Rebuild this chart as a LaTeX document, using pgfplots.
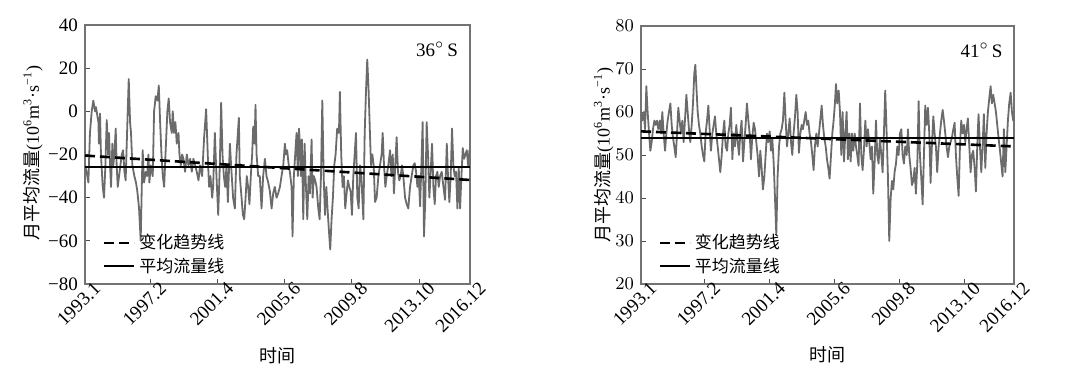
\documentclass[border=0pt]{standalone}
\usepackage{pgfplots}
\pgfplotsset{compat=1.18}
\usepackage{fontspec}
\setmainfont{Liberation Serif}
\newfontfamily\cjk{Noto Sans CJK SC}
\pgfplotstableread{
i v
0 -25
1.2 -28
2.5 -33
3.7 -10
5 0
6.2 5
7.5 0
8.2 2
9.2 -2
10 -5
10.4 -15
11.2 -1
11.9 -20
13.2 -35
14.2 -40
15.2 -25
16.2 -4
17.2 -20
17.9 -10
18.7 -25
19.4 -35
20.4 -15
21.1 -25
21.9 -20
22.9 -8
23.6 -25
24.4 -35
25.4 -30
26.4 -25
27.4 -20
28.4 -18
29.4 -28
30.3 -32
31.6 -5
32.6 15
33.6 -5
34.3 -10
35.3 -25
36.8 -30
38 -33
39 -37
40.3 -45
41.5 -60
42.5 -30
43 -18
44 -33
45.3 -28
46.3 -30
47.3 -20
48 -33
49 -25
50.5 -30
51.5 0
52.7 7
54 5
55 12
56 -5
57 -20
58 -30
59 -35
60 -20
61.4 0
62.4 6
63.4 -5
64.7 -10
65.4 0
66.4 -10
67.4 -5
68.4 -15
69.7 -10
70.4 -20
71.4 -25
72.4 -20
73.4 -22
74.6 -28
75.9 -20
77.1 -25
78.4 -22
79.6 -28
80.8 -22
82.1 -25
83.3 -28
84.6 -32
85.8 -25
87.3 -30
88.8 -12
90.3 1
91.8 -25
92.5 -35
93.5 -30
94.8 -40
95.5 -35
96.8 -10
98 -30
99.3 -48
100.5 -25
101.5 4
102.5 -20
103.5 -30
104.5 -35
105.5 -25
106.5 -42
108 -15
109.2 -28
110.4 -40
111.7 -45
112.9 -20
114.7 -3
115.4 -30
116.7 -40
117.7 -48
118.7 -50
119.7 -40
120.6 -30
121.6 -35
122.6 -43
123.6 -30
124.6 -20
125.4 -7
126.4 -15
127.1 3
127.9 -20
129.1 -30
130.3 -30
131.6 -45
132.8 -30
134.1 -22
135.3 -30
136.6 -33
137.8 -37
139.1 -45
140.3 -38
141.5 -35
142.8 -40
144 -38
145.3 -35
146.5 -30
147.8 -25
149 -15
149.8 -20
150.7 -18
151.7 -24
152.7 -28
154 -35
154.7 -58
155.7 -30
156.7 -20
157.7 -10
158.7 -30
159.5 -8
160.2 -15
160.9 -30
161.7 -13
162.7 -50
163.7 -15
164.7 -35
165.7 -50
166.7 -30
167.7 -38
168.9 -13
169.7 -40
170.6 -30
171.6 -32
172.6 -35
173.9 -45
174.9 -50
175.9 -30
176.9 5
177.9 -30
178.9 -48
179.9 -35
180.8 -45
181.8 -55
182.8 -64
183.8 -50
184.8 -40
185.8 -25
186.8 -20
188 -8
189.3 -10
190 9
191 -20
192 -35
193 -30
194 -45
195 -38
196 -32
197 -35
198 -37
199 -48
200 -30
201 -20
202 -10
203 -40
204 -45
205 -25
206 -30
207.5 -50
208.5 -10
209.5 10
210.4 24
211.4 10
212.4 -10
213.2 -25
214.2 -20
215.2 -25
216.2 -42
217.4 -40
218.7 -30
219.9 -25
221.1 -20
221.9 -10
222.9 -25
223.9 -35
224.9 -30
226.1 -25
227.4 -18
228.4 -30
229.4 -20
230.3 -38
231.3 -25
232.3 -12
233.3 -28
234.3 -32
235.3 -30
236.3 -25
237.3 -30
238.6 -40
239.8 -43
241 -45
242.3 -35
243.5 -30
244.8 -25
245.8 -24
246.8 -28
247.8 -35
248.8 -30
249.8 -44
251 -20
251.7 -5
252.7 -58
253.7 -40
254.7 -5
255.7 -20
256.7 -40
257.7 -28
258.7 -15
259.7 -35
260.7 -43
261.7 -30
262.7 -28
263.7 -35
264.7 -30
265.9 -28
267.2 -35
268.4 -41
269.7 -15
270.6 -30
271.6 -42
272.6 -30
273.6 -8
274.6 -25
275.6 -30
276.6 -28
277.6 -45
278.6 -26
279.6 -45
280.6 -30
281.6 -17
282.6 -22
283.6 -20
284.6 -18
285.6 -25
286.6 -18
287 -20
}\tableA
\pgfplotstableread{
i v
0 60
0.8 58
2.1 60
3.1 56
4.1 66
5.1 60
6.2 55
7.2 51
8.2 53
9.2 56
10.3 58
11.3 57
12.3 58
13.3 56
14.4 58
15.4 55
16.4 60
17.4 55
18.5 51
19.5 55
20.5 58
21.5 60
22.6 62
23.6 57
24.6 54
25.6 52
26.7 49.5
27.7 55
28.7 61
29.7 58
30.8 55
31.8 58
32.8 53
33.8 58
34.9 64
35.9 60
36.9 56
37.9 53
39 57
40 62
41 69
41.8 71
42.6 66
43.6 60
44.6 57
45.6 55
46.7 52
47.7 50
48.7 48.5
49.7 55
50.8 58
51.8 61.5
52.8 56
53.8 51
54.9 55
55.9 57
56.9 59
57.9 55
59 52
60 49
61 46
62.1 50
63.1 55
64.1 58
65.1 52
66.2 51
67.2 55
68.2 57
69.2 61
70.3 49
71.3 55
72.3 52
73.3 57
74.4 53
75.4 50
76.4 55
77.4 58
78.5 48.5
79.5 53
80.5 57
81.5 62
82.6 58
83.6 55
84.6 49
85.6 54
86.7 57.5
87.7 56
88.7 53
89.7 50
90.8 45
91.8 51
92.8 47
93.8 42
94.9 45
95.9 50
96.9 55
97.9 53
99 55.5
100 51
101 54
102.1 48
103.1 40
104.1 31.5
105.1 45
106.2 52
107.2 55
108.2 56
109.2 58
110.3 64.5
111.3 58
112.3 52
113.3 55
114.4 58.5
115.4 53
116.4 50
117.4 55
118.5 59
119.5 64
120.5 60
121.5 50.5
122.6 55
123.6 57
124.6 56
125.6 58
126.7 60
127.7 57
128.7 58
129.7 55
130.8 53
131.8 50
132.8 46.5
133.8 52
134.9 55
135.9 52
136.9 55
137.9 58
139 61.5
140 57
141 54
142.1 52
143.1 49
144.1 47
145.1 44.5
146.2 50
147.2 55
148.2 58
149.2 62
150 66.5
151 62
152.1 65
153.1 60
154.1 50
155.1 60
156.2 48.5
157.2 55
158.2 60
159.2 49
160.3 55
161.3 48.5
162.3 55
163.3 51
164.4 55
165.4 52
166.4 50
167.4 47.5
168.5 62
169.5 50
170.5 46.5
171.5 51
172.6 58
173.6 52
174.6 56
175.6 53
176.7 49
177.7 52
178.7 41
179.7 48
180.8 58
181.8 50
182.8 48
183.8 54
184.9 50
185.9 46
186.9 55
187.9 65
189 55
190 45
191 30
192.1 40
193.1 44
194.1 42
195.1 46
196.2 48
197.2 52
198.2 50
199.2 55
200.3 56
201.3 50
202.3 48
203.3 52
204.4 50
205.4 56
206.4 50
207.4 47
208.5 43
209.5 44
210.5 47
211.5 41
212.6 48
213.6 62.5
214.6 50
215.6 45
216.7 38.5
217.7 50
218.7 61.5
219.7 57
220.8 61
221.8 55
222.8 43.5
223.8 52
224.9 59
225.9 55
226.9 52
227.9 46
229 52
230 55
231 58
232.1 60.5
233.1 58
234.1 55
235.1 52
236.2 49.5
237.2 52
238.2 53
239.2 54
240.3 56
241.3 57.5
242.3 50
243.3 45
244.4 40.5
245.4 52
246.4 58
247.4 55
248.5 57
249.5 53
250.5 56
251.5 58.5
252.6 52
253.6 46
254.6 50
255.6 51
256.7 47
257.7 41.5
258.7 52
259.7 59.5
260.8 52
261.8 46
262.8 52
263.8 59.5
264.9 47
265.9 55
266.9 60
267.9 63
269 66
270 62
271 64
272.1 62
273.1 60
274.1 57
275.1 54
276.2 51
277.2 48
278.2 45
279.2 56
280.3 46
281.3 52
282.3 58
283.3 62
284.4 64.5
285.4 60
286.4 58
287 58
}\tableB
\pgfplotsset{
  myax/.style={
    scale only axis,
    anchor=south west,
    xmin=0, xmax=287,
    xtick={0,49,99,149,199,249,287},
    xticklabels={1993.1,1997.2,2001.4,2005.6,2009.8,2013.10,2016.12},
    x tick label style={rotate=45, anchor=north east, inner sep=1pt, xshift=5pt, yshift=-0.5pt},
    tick label style={font=\fontsize{9.5}{11}\selectfont},
    tick align=inside,
    xtick pos=bottom, ytick pos=left,
    major tick length=2.5pt,
    axis line style={black!55, line width=0.6pt},
    every tick/.style={black!70, line width=0.5pt},
    xlabel={\cjk 时间},
    xlabel style={font=\cjk\fontsize{9}{10}\selectfont, at={(axis description cs:0.5,-0.275)}, anchor=center},
    ylabel style={font=\fontsize{9}{10}\selectfont, anchor=center},
    legend style={at={(0.04,0.01)}, anchor=south west, draw=none, fill=none,
      font=\cjk\fontsize{8.5}{10}\selectfont, row sep=-1pt, inner sep=1pt},
    legend cell align=left,
    clip=true,
  },
  dataline/.style={black!58, line width=0.9pt, line join=round, forget plot},
  trendline/.style={black, line width=1.3pt, dash pattern=on 5pt off 2.5pt,
    legend image code/.code={\draw[#1] (0pt,0pt) -- (15pt,0pt);}},
  meanline/.style={black, line width=1.1pt,
    legend image code/.code={\draw[#1] (0pt,0pt) -- (15pt,0pt);}},
}
\begin{document}
\begin{tikzpicture}
\path[use as bounding box] (0,0) rectangle (540pt,194pt);
\begin{axis}[myax, at={(42.5pt,52pt)}, width=192.5pt, height=129.5pt,
  ymin=-80, ymax=40, ytick={-80,-60,-40,-20,0,20,40},
  yticklabels={−80,−60,−40,−20,0,20,40},
  ylabel={{\cjk 月平均流量}(10\textsuperscript{6}m\textsuperscript{3}·s\textsuperscript{−1})},
  ylabel style={at={(axis description cs:-0.135,0.505)}}]
\addplot[dataline] table[x=i, y=v] {\tableA};
\addplot[trendline] coordinates {(0,-20.5) (287,-31.8)};
\addlegendentry{变化趋势线}
\addplot[meanline] coordinates {(0,-25.7) (287,-25.7)};
\addlegendentry{平均流量线}
\node[anchor=north east, font=\fontsize{9.5}{11}\selectfont, inner sep=0pt] at (rel axis cs:0.97,0.935) {36$^{\circ}$\,S};
\end{axis}
\begin{axis}[myax, at={(320.5pt,52pt)}, width=186.5pt, height=129pt,
  ymin=20, ymax=80, ytick={20,30,40,50,60,70,80},
  ylabel={{\cjk 月平均流量}(10\textsuperscript{6}m\textsuperscript{3}·s\textsuperscript{−1})},
  ylabel style={at={(axis description cs:-0.10,0.5)}}]
\addplot[dataline] table[x=i, y=v] {\tableB};
\addplot[trendline] coordinates {(0,55.5) (287,52)};
\addlegendentry{变化趋势线}
\addplot[meanline] coordinates {(0,54) (287,54)};
\addlegendentry{平均流量线}
\node[anchor=north east, font=\fontsize{9.5}{11}\selectfont, inner sep=0pt] at (rel axis cs:0.97,0.935) {41$^{\circ}$\,S};
\end{axis}
\end{tikzpicture}
\end{document}
